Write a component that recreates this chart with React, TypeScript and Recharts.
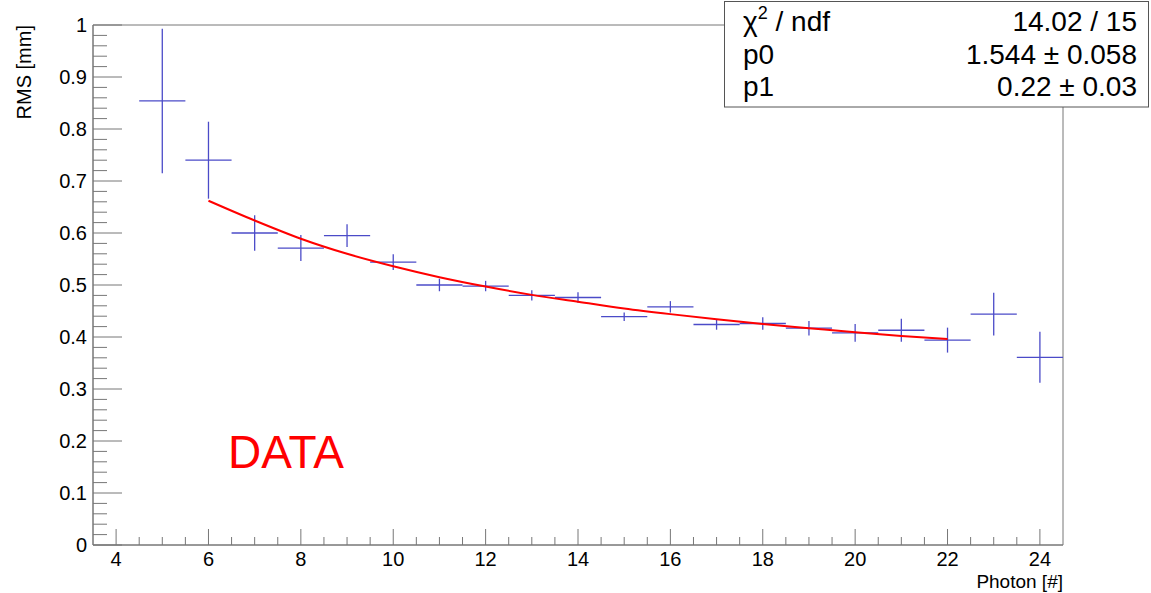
import React from "react"
import {
  ComposedChart,
  Scatter,
  Line,
  XAxis,
  YAxis,
  ErrorBar,
  ReferenceArea,
} from "recharts"

// measured points (bin centres, RMS, vertical error)
const photons = [5, 6, 7, 8, 9, 10, 11, 12, 13, 14, 15, 16, 17, 18, 19, 20, 21, 22, 23, 24]
const rms = [0.854, 0.740, 0.600, 0.571, 0.595, 0.544, 0.500, 0.498, 0.480, 0.476, 0.439, 0.458, 0.424, 0.426, 0.417, 0.408, 0.413, 0.394, 0.444, 0.361]
const rmsErr = [0.139, 0.074, 0.034, 0.025, 0.022, 0.015, 0.012, 0.010, 0.010, 0.010, 0.008, 0.011, 0.010, 0.012, 0.014, 0.017, 0.022, 0.024, 0.041, 0.049]
const binHalfWidth = 0.5

// fitted curve
const fitX = [6, 7, 8, 9, 10, 11, 12, 13, 14, 15, 16, 17, 18, 19, 20, 21, 22]
const fitY = [0.662, 0.624, 0.589, 0.560, 0.536, 0.515, 0.497, 0.481, 0.468, 0.455, 0.444, 0.434, 0.425, 0.417, 0.409, 0.402, 0.396]

const xMajor = [4, 6, 8, 10, 12, 14, 16, 18, 20, 22, 24]
const yMajor = [0, 0.1, 0.2, 0.3, 0.4, 0.5, 0.6, 0.7, 0.8, 0.9, 1]

const statNames = ["p0", "p1"]
const statValues = ["14.02 / 15", "1.544 \u00b1 0.058", "0.22 \u00b1 0.03"]

const points = photons.map((x, i) => ({ x, y: rms[i], ey: rmsErr[i], ex: binHalfWidth }))
const fit = fitX.map((x, i) => ({ x, y: fitY[i] }))

// minor tick positions between the labelled ones
const xTicks = xMajor.slice(0, -1).flatMap((v) => [v, v + 0.5, v + 1, v + 1.5]).concat([24])
const yTicks = yMajor.slice(0, -1).flatMap((v) => [0, 1, 2, 3, 4].map((k) => +(v + k * 0.02).toFixed(2))).concat([1])

const AXIS = "#777"
const FONT = "'Liberation Sans', Arial, Helvetica, sans-serif"

const XTick = (props: any) => {
  const { x, y, payload } = props
  const v = payload.value
  const major = xMajor.includes(v)
  return (
    <g>
      <line x1={x} x2={x} y1={y} y2={y - (major ? 16 : 8)} stroke={AXIS} strokeWidth={1} />
      {major && (
        <text x={x} y={y + 21} textAnchor="middle" fontSize={20} fill="#000" fontFamily={FONT}>
          {v}
        </text>
      )}
    </g>
  )
}

const YTick = (props: any) => {
  const { x, y, payload } = props
  const v = payload.value
  const major = yMajor.some((m) => Math.abs(m - v) < 1e-6)
  return (
    <g>
      <line x1={x} x2={x + (major ? 29 : 14)} y1={y} y2={y} stroke={AXIS} strokeWidth={1} />
      {major && (
        <text x={x - 6} y={y + 7} textAnchor="end" fontSize={20} fill="#000" fontFamily={FONT}>
          {v}
        </text>
      )}
    </g>
  )
}

export default function App() {
  const rowBase = [31, 64, 96]
  return (
    <div style={{ position: "absolute", left: 0, top: 0, width: 1151, height: 593, background: "#fff", fontFamily: FONT }}>
      <ComposedChart width={1151} height={593} margin={{ top: 25, right: 88, bottom: 0, left: 0 }}>
        <XAxis
          dataKey="x"
          type="number"
          domain={[3.5, 24.5]}
          ticks={xTicks}
          interval={0}
          tick={<XTick />}
          tickLine={false}
          tickSize={0}
          tickMargin={0}
          height={48}
          axisLine={{ stroke: AXIS }}
          allowDataOverflow
        />
        <YAxis
          type="number"
          domain={[0, 1]}
          ticks={yTicks}
          interval={0}
          tick={<YTick />}
          tickLine={false}
          tickSize={0}
          tickMargin={0}
          width={93}
          axisLine={{ stroke: AXIS }}
          allowDataOverflow
        />
        <ReferenceArea x1={3.5} x2={24.5} y1={0} y2={1} fill="none" stroke={AXIS} strokeWidth={1} />
        <Scatter data={points} dataKey="y" shape={() => <g />} isAnimationActive={false}>
          <ErrorBar dataKey="ey" direction="y" width={0} stroke="#4b4bc8" strokeWidth={1.3} />
          <ErrorBar dataKey="ex" direction="x" width={0} stroke="#4b4bc8" strokeWidth={1.3} />
        </Scatter>
        <Line data={fit} dataKey="y" type="monotone" stroke="#ff0000" strokeWidth={2} dot={false} isAnimationActive={false} />
      </ComposedChart>

      <svg width={1151} height={593} style={{ position: "absolute", left: 0, top: 0, pointerEvents: "none" }}>
        <text x={31} y={25} transform="rotate(-90 31 25)" textAnchor="end" fontSize={20} fontFamily={FONT} fill="#000">
          RMS [mm]
        </text>
        <text x={1063} y={588} textAnchor="end" fontSize={19} fontFamily={FONT} fill="#000">
          Photon [#]
        </text>
        <text x={228} y={468} fontSize={46} fontFamily={FONT} fill="#ff0000">
          DATA
        </text>

        {/* fit statistics box */}
        <rect x={724.5} y={1.5} width={424} height={105.5} fill="#fff" stroke="#555" strokeWidth={1} />
        <text x={743} y={rowBase[0]} fontSize={28} fontFamily={FONT} fill="#000">
          {"\u03c7"}
          <tspan fontSize={18} dy={-12}>2</tspan>
          <tspan dy={12}>{" / ndf"}</tspan>
        </text>
        {statNames.map((n, i) => (
          <text key={n} x={743} y={rowBase[i + 1]} fontSize={28} fontFamily={FONT} fill="#000">
            {n}
          </text>
        ))}
        {statValues.map((v, i) => (
          <text key={v} x={1137} y={rowBase[i]} textAnchor="end" fontSize={28} fontFamily={FONT} fill="#000">
            {v}
          </text>
        ))}
      </svg>
    </div>
  )
}
